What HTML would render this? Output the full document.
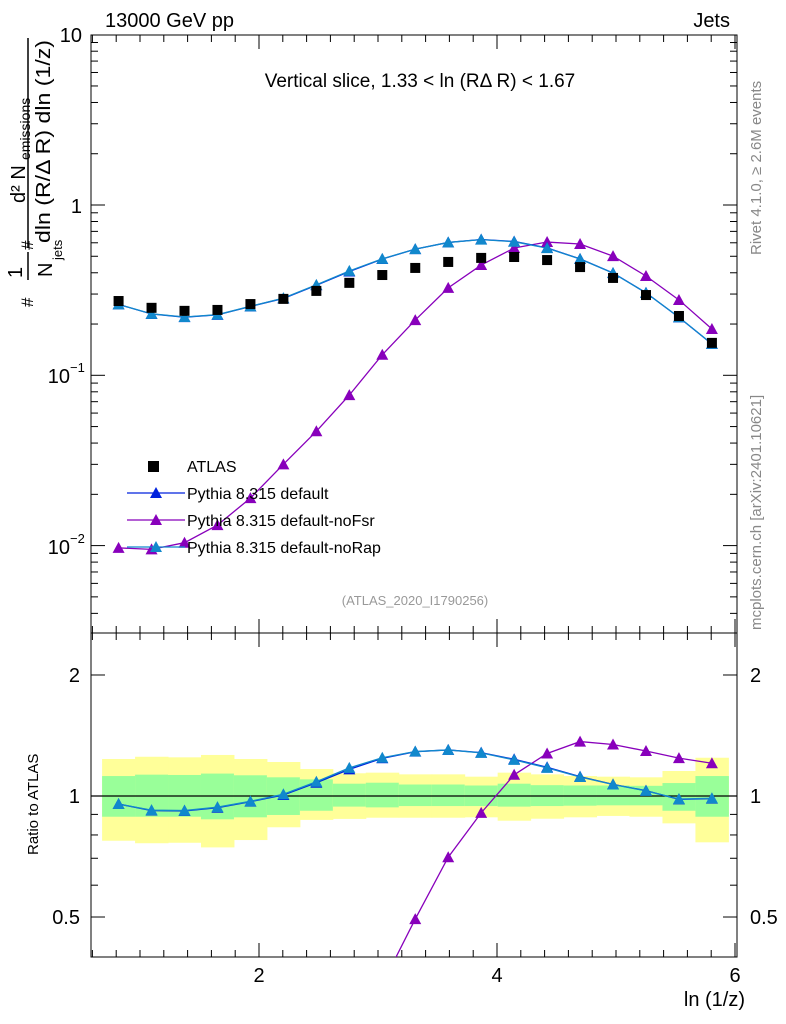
<!DOCTYPE html>
<html><head><meta charset="utf-8"><style>
html,body{margin:0;background:#fff;overflow:hidden;width:786px;height:1024px;}
svg{display:block;font-family:"Liberation Sans","DejaVu Sans",sans-serif;}
</style></head><body>
<svg id="c" width="786" height="1024" xmlns="http://www.w3.org/2000/svg">
<rect width="786" height="1024" fill="#fff"/>
<g id="bands"></g>
<g id="axes"></g>
<g id="marks"></g>
<text x="105" y="27" font-size="20">13000 GeV pp</text>
<text x="730" y="27" font-size="20" text-anchor="end">Jets</text>
<text x="420" y="87" font-size="19" text-anchor="middle">Vertical slice, 1.33 &lt; ln (RΔ R) &lt; 1.67</text>
<text x="415" y="605" font-size="13" fill="#999" text-anchor="middle">(ATLAS_2020_I1790256)</text>
<text transform="translate(761,255) rotate(-90)" font-size="15" fill="#888">Rivet 4.1.0, ≥ 2.6M events</text>
<text transform="translate(761,630) rotate(-90)" font-size="15" fill="#888">mcplots.cern.ch [arXiv:2401.10621]</text>
<g transform="translate(0,310) rotate(-90)" font-size="20">
  <text x="3" y="33" font-size="17">#</text>
  <text x="32" y="22">1</text>
  <line x1="30" y1="28" x2="58" y2="28" stroke="#000" stroke-width="1.5"/>
  <text x="33" y="52">N</text><text x="50" y="62" font-size="13">jets</text>
  <text x="60" y="33" font-size="17">#</text>
  <text x="107" y="25">d² N</text><text x="150" y="30" font-size="14">emissions</text>
  <line x1="62" y1="28" x2="272" y2="28" stroke="#000" stroke-width="1.5"/>
  <text x="67" y="50" textLength="203" lengthAdjust="spacingAndGlyphs">dln (R/Δ R) dln (1/z)</text>
</g>
<text x="745" y="1006" font-size="20" text-anchor="end">ln (1/z)</text>
<text transform="translate(38,855) rotate(-90)" font-size="15">Ratio to ATLAS</text>
<g id="legend"></g>
</svg>
<script>
const xs = [0.82,1.097,1.374,1.651,1.928,2.205,2.482,2.759,3.036,3.313,3.59,3.867,4.144,4.421,4.698,4.975,5.252,5.529,5.806];
const atlas = [0.273,0.249,0.239,0.242,0.262,0.281,0.313,0.349,0.388,0.427,0.463,0.489,0.495,0.475,0.432,0.373,0.296,0.223,0.155];
const defRatio = [0.955,0.92,0.918,0.935,0.968,1.006,1.079,1.165,1.241,1.289,1.302,1.282,1.234,1.179,1.117,1.069,1.031,0.981,0.985];
const noRapRatio = [0.955,0.922,0.92,0.938,0.97,1.01,1.085,1.175,1.245,1.29,1.302,1.28,1.23,1.175,1.115,1.068,1.03,0.983,0.987];
const noFsr = [0.0097,0.0095,0.0104,0.0132,0.019,0.030,0.0469,0.0765,0.132,0.211,0.326,0.444,0.559,0.606,0.590,0.501,0.383,0.277,0.187];
const yelHi = [1.236,1.252,1.248,1.265,1.236,1.215,1.167,1.139,1.143,1.132,1.132,1.117,1.143,1.132,1.121,1.117,1.113,1.154,1.245];
const grnHi = [1.121,1.13,1.128,1.137,1.126,1.113,1.10,1.073,1.079,1.068,1.068,1.062,1.073,1.064,1.062,1.062,1.06,1.077,1.121];
const grnLo = [0.888,0.888,0.888,0.875,0.885,0.897,0.919,0.941,0.937,0.944,0.944,0.944,0.941,0.944,0.946,0.948,0.948,0.919,0.888];
const yelLo = [0.774,0.763,0.765,0.745,0.777,0.836,0.872,0.877,0.883,0.883,0.883,0.885,0.868,0.878,0.885,0.892,0.888,0.855,0.767];
const xTicks = [2,4,6];
const NS="http://www.w3.org/2000/svg";
const L=91,R=737,T=35,B=633,RB=957;
const X=v=>21+119*v;
const Y=v=>205-170.3*Math.log10(v);
const YR=v=>796-402*Math.log10(v);
function mk(parent,tag,attrs){const e=document.createElementNS(NS,tag);for(const k in attrs)e.setAttribute(k,attrs[k]);document.getElementById(parent).appendChild(e);return e;}
const defVals=atlas.map((a,i)=>a*defRatio[i]);
const rapVals=atlas.map((a,i)=>a*noRapRatio[i]);
const hw=(xs[1]-xs[0])/2;
xs.forEach((x,i)=>{
 let r=mk('bands','rect',{x:X(x-hw),y:YR(yelHi[i]),width:X(x+hw)-X(x-hw)+0.5,height:YR(yelLo[i])-YR(yelHi[i]),fill:'#ffff99'});
 
 
 let g=mk('bands','rect',{x:X(x-hw),y:YR(grnHi[i]),width:X(x+hw)-X(x-hw)+0.5,height:YR(grnLo[i])-YR(grnHi[i]),fill:'#99ff99'});
 
 
});
mk('axes','rect',{x:L,y:T,width:R-L,height:B-T,fill:'none',stroke:'#000','stroke-width':1});
mk('axes','rect',{x:L,y:B,width:R-L,height:RB-B,fill:'none',stroke:'#000','stroke-width':1});
mk('axes','line',{x1:L,x2:R,y1:YR(1),y2:YR(1),stroke:'#000','stroke-width':1.3});
for(let d=-3;d<=1;d++){for(let m=1;m<=9;m++){const v=m*Math.pow(10,d);const y=Y(v);if(y<T||y>B)continue;const len=m===1?14:7;
 mk('axes','line',{x1:L,x2:L+len,y1:y,y2:y,stroke:'#000'});mk('axes','line',{x1:R-len,x2:R,y1:y,y2:y,stroke:'#000'});}}
const tl=(g,x,y,s,a,sz)=>{const t=mk(g,'text',{x:x,y:y,'font-size':sz||20,'text-anchor':a||'end'});t.textContent=s;return t;};
tl('axes',82,42,'10');tl('axes',82,213,'1');
tl('axes',70,383,'10');let s1=mk('axes','text',{x:70,y:372,'font-size':13});s1.textContent='−1';
tl('axes',70,554,'10');let s2=mk('axes','text',{x:70,y:543,'font-size':13});s2.textContent='−2';
[0.5,0.6,0.7,0.8,0.9,1,2].forEach(v=>{const y=YR(v);const len=(v===0.5||v===1||v===2)?14:7;
 mk('axes','line',{x1:L,x2:L+len,y1:y,y2:y,stroke:'#000'});mk('axes','line',{x1:R-len,x2:R,y1:y,y2:y,stroke:'#000'});});
[[2,'2'],[1,'1'],[0.5,'0.5']].forEach(([v,s])=>{tl('axes',80,YR(v)+7,s);tl('axes',750,YR(v)+7,s,'start');});
for(let v=0.6;v<=6.01;v+=0.2){const x=X(v);const maj=Math.abs(v-Math.round(v))<0.01&&Math.round(v)%2===0;const len=maj?14:7;
 [T,B].forEach(yb=>{mk('axes','line',{x1:x,x2:x,y1:yb,y2:yb+len,stroke:'#000'});});
 [B,RB].forEach(yb=>{mk('axes','line',{x1:x,x2:x,y1:yb,y2:yb-len,stroke:'#000'});});}
xTicks.forEach(v=>tl('axes',X(v),982,String(v),'middle'));
function tri(x,y,c,name){const s=6;const p=mk('marks','polygon',{points:`${x-s},${y+5} ${x+s},${y+5} ${x},${y-6}`,fill:c});
 
 }
function line(vals,fy,c,name,clip){let pts=[];xs.forEach((x,i)=>{pts.push(X(x)+','+fy(vals[i]));});
 const pl=mk('marks','polyline',{points:pts.join(' '),fill:'none',stroke:c,'stroke-width':1.3});
 
 
 if(clip)pl.setAttribute('clip-path','url(#rclip)');}
const defs=mk('axes','defs',{});const cp=document.createElementNS(NS,'clipPath');cp.setAttribute('id','rclip');
const cr=document.createElementNS(NS,'rect');cr.setAttribute('x',L);cr.setAttribute('y',B);cr.setAttribute('width',R-L);cr.setAttribute('height',RB-B);cp.appendChild(cr);defs.appendChild(cp);
line(noFsr,Y,'#8800bb','nofsr-line');
line(defVals,Y,'#0022dd','default-line');
line(rapVals,Y,'#1188cc','norap-line');
xs.forEach((x,i)=>{
 tri(X(x),Y(noFsr[i]),'#8800bb','nofsr-point');
 tri(X(x),Y(defVals[i]),'#0022dd','default-point');
 tri(X(x),Y(rapVals[i]),'#1188cc','norap-point');
 const r=mk('marks','rect',{x:X(x)-5,y:Y(atlas[i])-5,width:10,height:10,fill:'#000'});
 
 
});
const fsrR=noFsr.map((v,i)=>v/atlas[i]);
line(fsrR,YR,'#8800bb','nofsr-ratio-line',1);
line(defRatio,YR,'#0022dd','default-ratio-line',1);
line(noRapRatio,YR,'#1188cc','norap-ratio-line',1);
xs.forEach((x,i)=>{
 if(YR(fsrR[i])>B&&YR(fsrR[i])<RB)tri(X(x),YR(fsrR[i]),'#8800bb','nofsr-ratio-point');
 tri(X(x),YR(defRatio[i]),'#0022dd','default-ratio-point');
 tri(X(x),YR(noRapRatio[i]),'#1188cc','norap-ratio-point');
});
const leg=[['ATLAS','#000','sq'],['Pythia 8.315 default','#0022dd','tri'],['Pythia 8.315 default-noFsr','#8800bb','tri'],['Pythia 8.315 default-noRap','#1188cc','tri']];
leg.forEach((e,i)=>{const y=466+27*i;
 if(e[2]==='sq'){const r=mk('legend','rect',{x:148,y:y-5,width:11,height:11,fill:'#000'});}
 else{mk('legend','line',{x1:127,x2:185,y1:y,y2:y,stroke:e[1],'stroke-width':1.3});
  const p=mk('legend','polygon',{points:`${150},${y+5} ${162},${y+5} ${156},${y-6}`,fill:e[1]});}
 const t=mk('legend','text',{x:187,y:y+6,'font-size':16});t.textContent=e[0];
 
 
});
</script>
</body></html>
